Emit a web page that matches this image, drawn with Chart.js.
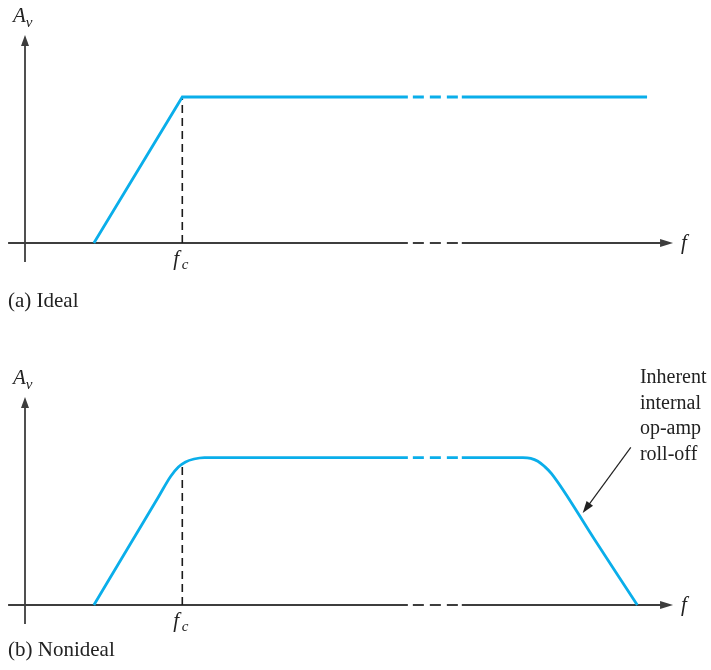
<!DOCTYPE html>
<html>
<head>
<meta charset="utf-8">
<script src="https://cdn.jsdelivr.net/npm/chart.js@4.4.1/dist/chart.umd.min.js"></script>
<style>
  html, body { margin: 0; padding: 0; background: #fff; }
  #wrap { position: relative; width: 711px; height: 670px; }
  canvas { position: absolute; left: 0; }
  #chartA { top: 0; }
  #chartB { top: 362px; }
</style>
</head>
<body>
<div id="wrap">
  <canvas id="chartA" width="711" height="320" style="width:711px;height:320px"></canvas>
  <canvas id="chartB" width="711" height="308" style="width:711px;height:308px"></canvas>
</div>
<script>
// frequency axis in arbitrary units (0..100), gain normalised to the passband
const breakFrom = 58.9;
const breakTo = 67.2;

// (a) ideal response
const freqA = [10.6, 24.2, 58.9, 67.2, 95.7];
const gainA = [0, 1, 1, 1, 1];
const fcA = 24.2;
const fcGainA = 1;

// (b) nonideal response, with the op-amp roll-off at the top end
const freqB = [10.6, 16.5, 20.5, 22.4, 23.6, 24.7, 26.0, 27.6, 58.9, 67.2, 76.6, 77.8, 78.9, 79.9, 81.0, 87.6, 94.2];
const gainB = [0, 0.44, 0.738, 0.88, 0.945, 0.98, 1.0, 1.01, 1.01, 1.01, 1.01, 1.005, 0.985, 0.95, 0.9, 0.45, 0];
const fcB = 24.2;
const fcGainB = 0.966;

// annotation on (b)
const noteLines = ["Inherent", "internal", "op-amp", "roll-off"];
const noteFrom = [93.2, 1.08];
const noteTo = [85.8, 0.63];
const noteTextX = 94.6;

// axis extents
const xAxisFrom = -2.6, xAxisTo = 99.7;
const yAxisFrom = -0.13, yAxisTo = 1.425;

const blue = "#0aaeea";
const axisColor = "#3d3d3d";
const serif = "'Liberation Serif', 'DejaVu Serif', serif";

function inBreak(c) {
  return c.p0.parsed.x >= breakFrom - 0.01 && c.p1.parsed.x <= breakTo + 0.01;
}

function arrowHead(ctx, tx, ty, angle, len, half) {
  ctx.save();
  ctx.translate(tx, ty);
  ctx.rotate(angle);
  ctx.beginPath();
  ctx.moveTo(0, 0);
  ctx.lineTo(-len, -half);
  ctx.lineTo(-len, half);
  ctx.closePath();
  ctx.fill();
  ctx.restore();
}

function diagramPlugin(cfg) {
  return {
    id: "diagram",
    beforeDatasetsDraw(chart) {
      const { ctx, scales: { x, y } } = chart;
      const ax = x.getPixelForValue(0);
      const ay = y.getPixelForValue(0);
      const left = x.getPixelForValue(xAxisFrom);
      const tipX = x.getPixelForValue(xAxisTo);
      const b0 = x.getPixelForValue(breakFrom);
      const b1 = x.getPixelForValue(breakTo);
      const bottom = y.getPixelForValue(yAxisFrom);
      const tipY = y.getPixelForValue(yAxisTo);

      ctx.save();
      ctx.strokeStyle = axisColor;
      ctx.fillStyle = axisColor;
      ctx.lineWidth = 1.8;

      // frequency axis, broken in the middle
      ctx.beginPath();
      ctx.moveTo(left, ay);
      ctx.lineTo(b0, ay);
      ctx.moveTo(b1, ay);
      ctx.lineTo(tipX - 8, ay);
      ctx.stroke();
      ctx.setLineDash([11, 6]);
      ctx.lineDashOffset = 12;
      ctx.beginPath();
      ctx.moveTo(b0, ay);
      ctx.lineTo(b1, ay);
      ctx.stroke();
      ctx.setLineDash([]);
      arrowHead(ctx, tipX, ay, 0, 13, 4);

      // gain axis
      ctx.beginPath();
      ctx.moveTo(ax, bottom);
      ctx.lineTo(ax, tipY + 8);
      ctx.stroke();
      arrowHead(ctx, ax, tipY, -Math.PI / 2, 11, 4);

      // labels
      ctx.fillStyle = "#222";
      ctx.textBaseline = "alphabetic";
      ctx.font = "italic 21px " + serif;
      ctx.fillText("A", ax - 12, tipY - 13);
      const wA = ctx.measureText("A").width;
      ctx.font = "italic 15px " + serif;
      ctx.fillText("v", ax - 12 + wA, tipY - 8);

      ctx.font = "italic 21px " + serif;
      ctx.fillText("f", tipX + 8, ay + 6);

      const fcX = x.getPixelForValue(cfg.fc);
      ctx.fillText("f", fcX - 9, ay + 22);
      ctx.font = "italic 15px " + serif;
      ctx.fillText("c", fcX - 0.5, ay + 26);

      ctx.font = "21px " + serif;
      ctx.fillText(cfg.caption, 8, ay + cfg.captionGap);
      ctx.restore();
    },
    afterDatasetsDraw(chart) {
      if (!cfg.note) return;
      const { ctx, scales: { x, y } } = chart;
      const sx = x.getPixelForValue(noteFrom[0]), sy = y.getPixelForValue(noteFrom[1]);
      const ex = x.getPixelForValue(noteTo[0]), ey = y.getPixelForValue(noteTo[1]);
      ctx.save();
      ctx.strokeStyle = "#222";
      ctx.fillStyle = "#222";
      ctx.lineWidth = 1.2;
      const ang = Math.atan2(ey - sy, ex - sx);
      ctx.beginPath();
      ctx.moveTo(sx, sy);
      ctx.lineTo(ex - 8 * Math.cos(ang), ey - 8 * Math.sin(ang));
      ctx.stroke();
      arrowHead(ctx, ex, ey, ang, 12, 4);

      ctx.font = "20px " + serif;
      const tx = x.getPixelForValue(noteTextX);
      noteLines.forEach((line, i) => {
        ctx.fillText(line, tx, 21 + i * 25.7);
      });
      ctx.restore();
    }
  };
}

function buildChart(id, freq, gain, fc, fcGain, smooth, cfg) {
  const canvas = document.getElementById(id);
  return new Chart(canvas, {
    type: "line",
    data: {
      datasets: [
        {
          data: freq.map((f, i) => ({ x: f, y: gain[i] })),
          borderColor: blue,
          borderWidth: 2.8,
          pointRadius: 0,
          tension: 0,
          cubicInterpolationMode: smooth ? "monotone" : "default",
          clip: false,
          segment: {
            borderDash: c => (inBreak(c) ? [11, 6] : undefined),
            borderDashOffset: c => (inBreak(c) ? 12 : undefined)
          }
        },
        {
          data: [{ x: fc, y: 0 }, { x: fc, y: fcGain }],
          borderColor: "#1a1a1a",
          borderWidth: 1.6,
          borderDash: [8, 5],
          pointRadius: 0,
          clip: false
        }
      ]
    },
    options: {
      responsive: false,
      animation: false,
      events: [],
      layout: { padding: { left: 25, right: 36, top: 60.5, bottom: canvas.height - 243 } },
      scales: {
        x: { type: "linear", min: 0, max: 100, display: false },
        y: { type: "linear", min: 0, max: 1.25, display: false }
      },
      plugins: { legend: { display: false }, tooltip: { enabled: false } }
    },
    plugins: [diagramPlugin(Object.assign({ fc }, cfg))]
  });
}

buildChart("chartA", freqA, gainA, fcA, fcGainA, false, { caption: "(a) Ideal", captionGap: 64 });
buildChart("chartB", freqB, gainB, fcB, fcGainB, true, { caption: "(b) Nonideal", captionGap: 51, note: true });
</script>
</body>
</html>
